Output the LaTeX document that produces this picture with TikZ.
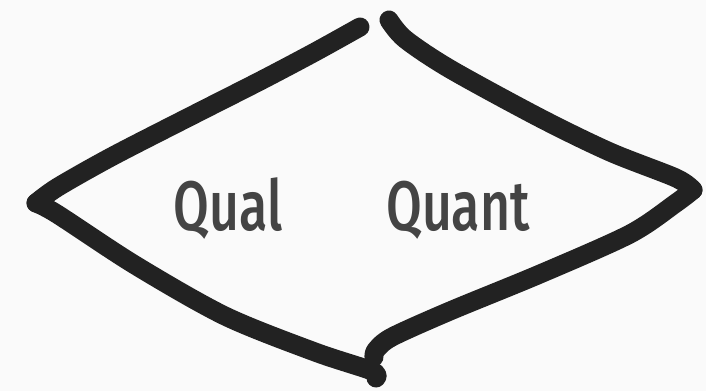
\documentclass[tikz,border=0pt]{standalone}
\usepackage{fontspec}
\setmainfont{Fira Sans}[UprightFont=* Medium]
\usepackage{tikz}
\definecolor{PaperGray}{RGB}{250,250,250}
\definecolor{InkBlack}{RGB}{34,34,34}
\definecolor{LabelGray}{RGB}{68,68,68}
\tikzset{
  ink/.style={InkBlack,line width=9.5pt,line cap=round,line join=round},
  label/.style={LabelGray,font=\fontsize{35}{35}\selectfont,anchor=base,xscale=0.74}
}

\begin{document}
\begin{tikzpicture}[x=0.5pt,y=-0.5pt]
  \fill[PaperGray] (0,0) rectangle (706,391);
  \useasboundingbox (0,0) rectangle (706,391);
  % left half
  \draw[ink] plot[smooth,tension=0.5] coordinates {(360,27) (315,52) (262,80) (195,114) (113,156) (58,187) (36,203)};
  \draw[ink] plot[smooth,tension=0.5] coordinates {(36,203) (57,214) (135,265) (225,316) (315,352) (372,371) (376,378)};
  % right half
  \draw[ink] plot[smooth,tension=0.5] coordinates {(389,20) (405,39) (450,69) (540,118) (610,152) (676,178) (693,190)};
  \draw[ink] plot[smooth,tension=0.5] coordinates {(693,190) (676,203) (630,234) (540,274) (450,311) (392,337) (376,350) (374,357)};
  \node[label] (qual) at (228,230) {Qual};
  \node[label] (quant) at (458,230) {Quant};
\end{tikzpicture}
\end{document}
